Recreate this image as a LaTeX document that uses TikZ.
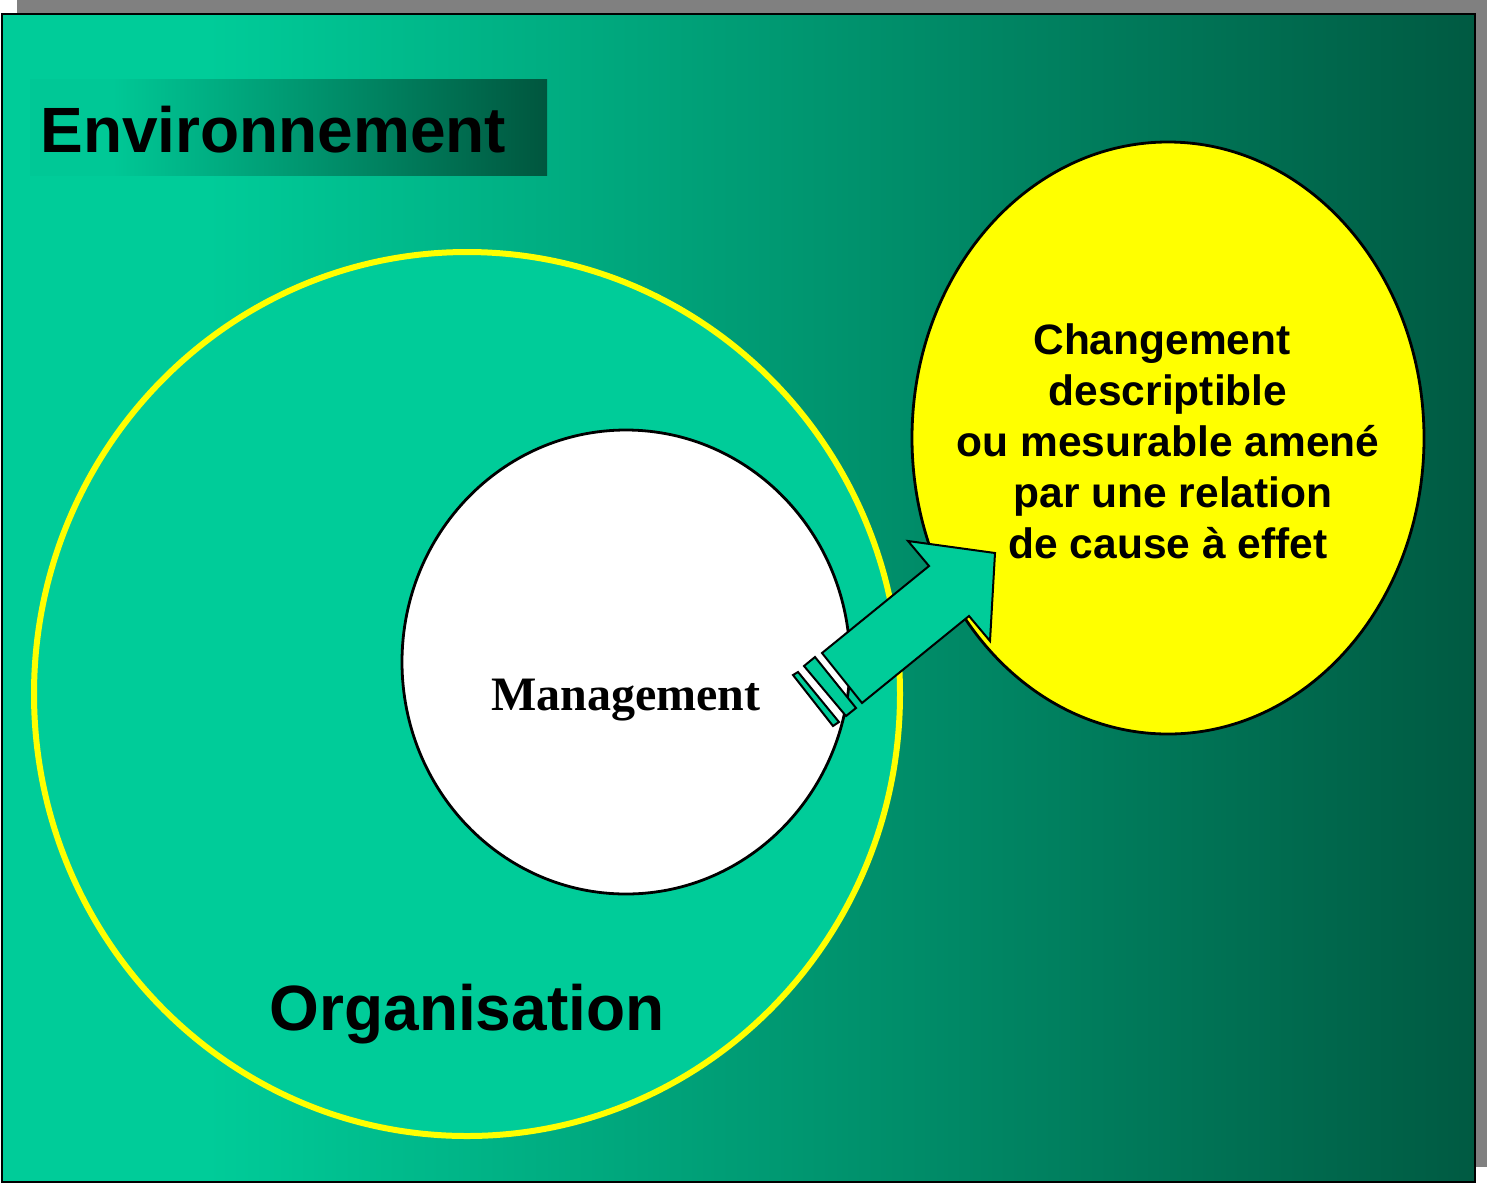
\documentclass[tikz,border=0pt]{standalone}
\usepackage{fontspec}
\usetikzlibrary{shapes.geometric}
\newfontfamily\sansb{Liberation Sans}
\newfontfamily\serifb{Liberation Serif}
\definecolor{envL}{RGB}{0,204,153}
\definecolor{envR}{RGB}{0,90,66}
\definecolor{boxL}{RGB}{0,200,150}
\definecolor{boxR}{RGB}{0,86,62}
\definecolor{shadowgray}{RGB}{128,128,128}
\definecolor{yel}{RGB}{255,255,0}
\pgfdeclarehorizontalshading{envshade}{100bp}{color(0bp)=(envL); color(32bp)=(envL); color(75bp)=(envR); color(100bp)=(envR)}
\pgfdeclarehorizontalshading{boxshade}{100bp}{color(0bp)=(boxL); color(33bp)=(boxL); color(75bp)=(boxR); color(100bp)=(boxR)}
\tikzset{
  bigtext/.style={font=\sansb\bfseries\fontsize{32}{38}\selectfont, inner sep=0pt},
  blob/.style={ellipse, inner sep=0pt},
  blockarrow/.style={fill=envL, draw=black, line width=1pt, line join=miter},
}
\begin{document}
\begin{tikzpicture}[x=0.5pt,y=-0.5pt]
\useasboundingbox (0,0) rectangle (1487,1184);
% shadow and background
\fill[shadowgray] (17,0) rectangle (1487,1167);
\shade[shading=envshade] (2,14) rectangle (1475,1182);
\draw[line width=1.2pt] (2,14) rectangle (1475,1182);
% title box
\shade[shading=boxshade] (30,79) rectangle (547,175);
\node[bigtext, anchor=base west] (env) at (40,152) {Environnement};
% organisation circle
\node[blob, draw=yel, line width=3pt, fill=envL, minimum width=433pt, minimum height=442pt] (org) at (467,694) {};
\node[bigtext, anchor=base] (orglabel) at (467,1030) {Organisation};
% management circle
\node[blob, draw=black, line width=1.4pt, fill=white, minimum width=224pt, minimum height=232pt] (mgmt) at (626,662) {};
\node[font=\serifb\bfseries\fontsize{24}{28}\selectfont, inner sep=0pt, anchor=base] (mgmtlabel) at (626,710) {Management};
% effect ellipse
\node[blob, draw=black, line width=1.4pt, fill=yel, minimum width=256pt, minimum height=296pt] (effect) at (1168,438) {};
\node[font=\sansb\bfseries\fontsize{21.25}{25.5}\selectfont, inner sep=0pt, align=center] (effectlabel) at (1168,441)
  {Changement\kern6pt\\descriptible\\ou mesurable amené\\\kern5pt par une relation\\de cause à effet};
% block arrow from management to effect
\draw[blockarrow] (822,653) -- (929,566) -- (908,541) -- (995,553) -- (990,641) -- (969,616) -- (862,703) -- cycle;
\draw[blockarrow] (804,666) -- (815,657) -- (856,708) -- (846,716) -- cycle;
\draw[blockarrow] (793,675) -- (798,672) -- (839,722) -- (833,726) -- cycle;
\end{tikzpicture}
\end{document}
